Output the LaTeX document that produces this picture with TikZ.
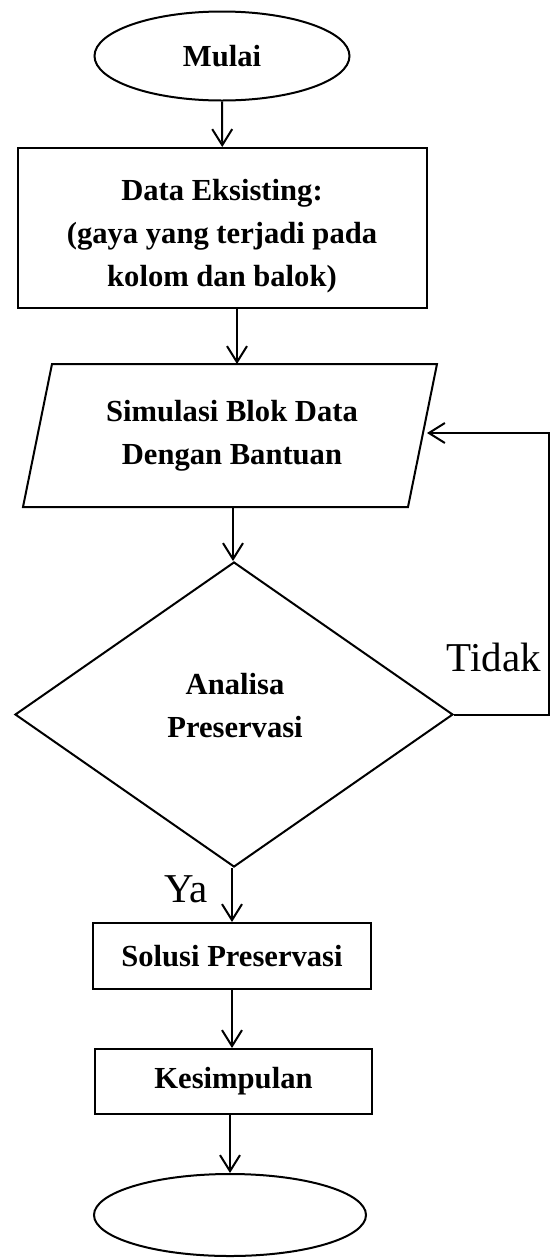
\documentclass[tikz,border=0pt]{standalone}
\usepackage{fontspec}
\setmainfont{Liberation Serif}
\usetikzlibrary{shapes.geometric,arrows.meta}

\begin{document}
\begin{tikzpicture}[x=0.5pt,y=-0.5pt,line width=1pt,
    txt/.style={font=\fontsize{15.3}{21.5}\selectfont\bfseries,align=center},
    box/.style={draw,txt,inner sep=0pt},
    lbl/.style={font=\fontsize{20.5}{24}\selectfont},
    arr/.style={-{Straight Barb[length=8pt,width=10pt]}}]
  \useasboundingbox (0,0) rectangle (558,1259);
  \node[box,ellipse,minimum width=127.5pt,minimum height=44.5pt] (mulai) at (222,56) {Mulai};
  \node[box,minimum width=204.5pt,minimum height=80pt] (data) at (222.5,228) {};
  \node[txt] (datatxt) at (222,236) {Data Eksisting:\\(gaya yang terjadi pada\\kolom dan balok)};
  % jajaran genjang
  \draw (23,507) -- (408,507) -- (437,364) -- (52,364) -- cycle;
  \node[txt] (sim) at (232,436) {Simulasi Blok Data\\Dengan Bantuan};
  \coordinate (simtop) at (237,364);
  \coordinate (simbot) at (233,507);
  \coordinate (simright) at (427,433);
  \node[draw,diamond,minimum width=219pt,minimum height=152.5pt,inner sep=0pt] (dec) at (234,714.5) {};
  \node[txt] (dectxt) at (235,706) {Analisa\\Preservasi};
  \node[box,minimum width=139pt,minimum height=33pt] (solusi) at (232,956) {Solusi Preservasi};
  \node[box,minimum width=138.5pt,minimum height=32.5pt] (kes) at (233.5,1081.5) {Kesimpulan};
  \node[draw,ellipse,minimum width=136pt,minimum height=41pt] (selesai) at (230,1215) {};
  \node[lbl] (tidak) at (494,657) {Tidak};
  \node[lbl] (ya) at (186,889) {Ya};
  \coordinate (back) at (549,433);

  \draw[arr] (mulai) -- (data);
  \draw[arr] ([xshift=7.25pt]data.south) -- (simtop);
  \draw[arr] (simbot) -- ([xshift=-0.5pt]dec.north);
  \draw[arr] (dec.east) -| (back) -- (simright);
  \draw[arr] ([xshift=-1pt]dec.south) -- (solusi);
  \draw[arr] (solusi) -- ([xshift=-0.75pt]kes.north);
  \draw[arr] ([xshift=-1.75pt]kes.south) -- (selesai);
\end{tikzpicture}
\end{document}
